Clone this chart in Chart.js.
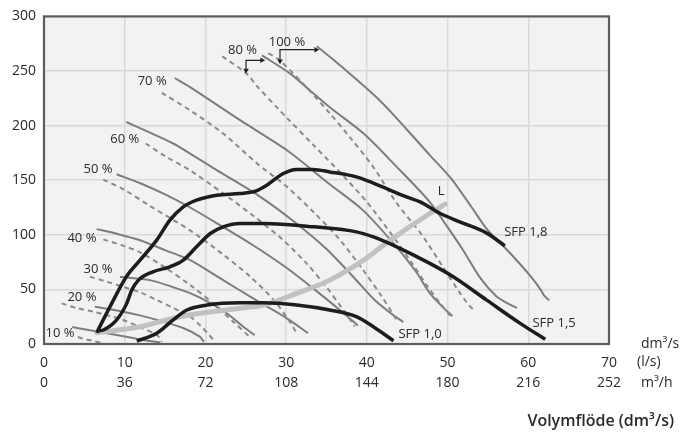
<!DOCTYPE html>
<html><head><meta charset="utf-8">
<script src="https://cdn.jsdelivr.net/npm/chart.js@4.4.1/dist/chart.umd.min.js"></script>
<style>html,body{margin:0;padding:0;background:#fff}#wrap{width:680px;height:432px;position:relative}</style>
</head><body><div id="wrap"><canvas id="c"></canvas></div>
<script>
// Axis ticks
const xTicksDm3s = [0,10,20,30,40,50,60,70];
const xTicksM3h  = [0,36,72,108,144,180,216,252];
const yTicks     = [0,50,100,150,200,250,300];

// Fan curves [flow dm3/s, pressure Pa]  (S = solid, D = dashed)
const fan100S = [[33.8,272.6],[36.7,255],[41.6,223],[45,196],[47.8,173],[50.5,151],[53,125],[55,104],[57,89],[59,73],[60.5,60],[61.5,50],[62,44],[62.6,40]];
const fan100D = [[27.8,266.4],[29.2,259.8],[32.5,235.3],[35.4,211.3],[37.9,189.3],[40.8,162],[43.7,129],[46.8,100],[49.3,72],[51.5,47],[52.6,36],[53.4,30]];
const fan80S  = [[27,264.3],[30.5,247.6],[33.4,229.3],[35.4,216.8],[39.6,192.7],[43.7,162.2],[47.8,130],[50,107],[52,85],[54,61],[56,44],[57.5,37],[58.6,33]];
const fan80D  = [[22.1,263.4],[25.1,247.6],[26.4,236],[29.2,214],[30.1,207],[33.4,182],[36.7,157],[40,130],[43,101],[45.5,75],[47.5,53],[49,38],[50.3,26]];
const fan70S  = [[16.2,243.6],[18.1,235.3],[24.3,205],[30.1,177.4],[35.4,146.3],[39.5,122.6],[43.7,88.7],[46.2,65],[47.8,46.6],[49.4,33.8],[50.6,25.6]];
const fan70D  = [[14.6,229.9],[18.1,214],[22.2,192.7],[26.4,165.3],[30.1,143.9],[33.5,120],[36.7,95],[39.5,68],[41.8,44],[43.7,22]];
const fan60S  = [[10.2,203.3],[13,194],[16,183.6],[18.1,174.4],[21.4,159.2],[26.8,134.8],[31,112],[35,87],[38.5,60],[41,40],[43,28],[44.5,20]];
const fan60D  = [[12.6,183.6],[15,172],[18.1,159],[22,139],[26,117],[29.5,96],[32.5,74],[35,52],[37,32],[38.5,16]];
const fan50S  = [[9,155.5],[12,147],[15,137],[18.1,125],[22,108],[26,90],[30,70],[33.5,50],[36.5,32],[38.9,17]];
const fan50D  = [[7.35,150.6],[10,141],[13,127],[18.1,104],[22,83],[25.5,62],[28.5,40],[30.3,22],[31.3,10]];
const fan40S  = [[6.53,105.2],[9,101],[11.9,95],[15,86],[18.1,76.8],[21,64],[24.3,49],[27,37],[30,24],[32.7,10]];
const fan40D  = [[7.35,95.8],[9.8,90],[11.9,84],[15,70],[18.1,54],[21,37],[23.5,20],[25.5,6.4]];
const fan30S  = [[9.4,61.6],[13.1,58.5],[16,52],[18.1,46.6],[20.5,38],[22.6,28.4],[24.5,17],[26.1,8]];
const fan30D  = [[5.7,61.6],[7.8,57],[9.8,52.4],[12,47],[14,40.2],[16,33],[18.1,25],[19.5,16],[20.5,8],[21,3.7]];
const fan20S  = [[6.3,34.1],[9.8,29.6],[12,26],[14,22],[17.3,14.4],[19.3,6.7],[19.8,2]];
const fan20D  = [[2.2,37.2],[4,33],[6.1,29.6],[8,26],[9.8,22],[12,15],[14,8.2],[14.6,2]];
const fan10S  = [[3.5,15.5],[5,13.5],[6.7,11.3],[8.5,9],[10.2,6.7],[12.5,3.5],[14.4,1.5]];
const fan10D  = [[4.2,6.4],[5,4.5],[6,3],[7.35,0.5]];

// SFP curves and system line L
const sfp18 = [[6.53,10.3],[8.39,37.2],[10.2,61.6],[11.9,76.8],[13.96,95.1],[15.6,113.4],[17.26,125.6],[18.9,131.7],[21.4,136.3],[24.3,137.8],[26.2,140],[27.6,145.4],[29.65,156.1],[31.3,159.8],[33.3,159.8],[35.4,157.6],[38.7,153],[40.8,147.3],[44.9,134.7],[46.6,130.2],[49.1,119.5],[51.5,111.9],[54.9,101.3],[57.1,89.9]];
const sfp15 = [[6.57,11.9],[7.35,12.8],[9.0,22],[10.25,37.2],[10.87,49.4],[11.7,58.5],[13.5,66.1],[15.6,70.7],[17.26,76.8],[18.9,89],[20.6,101.2],[22.2,107.3],[24.3,110.4],[27.2,110.4],[33.4,107.3],[38.7,102.7],[40.8,98.1],[43.7,89],[47.8,73.8],[50.7,61.6],[54.85,40.2],[59,18.9],[62.1,4.3]];
const sfp10 = [[11.5,2.7],[13.96,9.8],[16.0,22],[17.7,31.1],[20.2,35.7],[24.3,37.8],[27.2,37.8],[31.3,35.7],[35.4,31.1],[38.7,25],[40.8,15.8],[43.3,3]];
const lineL = [[6.53,10.3],[11.9,15.8],[16.85,25],[24.3,32.7],[27.2,35.7],[31.3,46.3],[35.4,58.5],[39.6,76.8],[42.9,95.1],[47.8,119.5],[49.7,128]];

// Arrow markers (80 % and 100 %)
const arrow80  = [[25.03,250.6],[25.03,259.8],[27.0,259.8]];
const arrow100 = [[29.24,259.1],[29.24,269.5],[33.7,269.5]];

// In-plot labels
const plotLabels = [
  ['10 %',1.98,10.1],['20 %',4.7,43],['30 %',6.7,68.6],['40 %',4.7,97],['50 %',6.7,160],
  ['60 %',10.0,187.5],['70 %',13.4,240.6],['80 %',24.6,269],['100 %',30.1,276.2],
  ['SFP 1,0',46.6,9.1],['SFP 1,5',63.2,19.2],['SFP 1,8',59.7,102.4],['L',49.2,139.5]
];

const pts = a => a.map(p => ({x:p[0], y:p[1]}));
const FONT = "'Open Sans', 'DejaVu Sans', sans-serif";

function gray(d, dashed){
  return {data: pts(d), borderColor: dashed ? '#888a8c' : '#7c7d7f', borderWidth: 2,
    borderDash: dashed ? [5,4] : [], pointRadius: 0, tension: 0.3, fill: false, order: 3};
}
function black(d){
  return {data: pts(d), borderColor: '#1d1d1d', borderWidth: 3.5, pointRadius: 0,
    cubicInterpolationMode: 'monotone', fill: false, order: 1, borderCapStyle: 'butt'};
}
function arrow(d){
  return {data: pts(d), borderColor: '#222', borderWidth: 1.2, tension: 0,
    pointStyle: 'triangle', pointRadius: [3.2,0,3.2], rotation: [180,0,90],
    pointBackgroundColor: '#222', pointBorderColor: '#222', pointBorderWidth: 0, order: 0};
}

const datasets = [
  gray(fan100S,false), gray(fan100D,true), gray(fan80S,false), gray(fan80D,true),
  gray(fan70S,false), gray(fan70D,true), gray(fan60S,false), gray(fan60D,true),
  gray(fan50S,false), gray(fan50D,true), gray(fan40S,false), gray(fan40D,true),
  gray(fan30S,false), gray(fan30D,true), gray(fan20S,false), gray(fan20D,true),
  gray(fan10S,false), gray(fan10D,true),
  {data: pts(lineL), borderColor: '#c0c1c3', borderWidth: 5, pointRadius: 0,
   cubicInterpolationMode: 'monotone', fill: false, order: 2, borderCapStyle: 'round'},
  black(sfp18), black(sfp15), black(sfp10),
  arrow(arrow80), arrow(arrow100)
];

const framePlugin = {
  id: 'framePlugin',
  beforeDraw(chart){
    const {ctx, chartArea: a} = chart;
    ctx.save();
    ctx.fillStyle = '#f1f2f4';
    ctx.fillRect(a.left, a.top, a.right - a.left, a.bottom - a.top);
    ctx.restore();
  },
  afterDatasetsDraw(chart){
    const {ctx, chartArea: a, scales} = chart;
    ctx.save();
    ctx.fillStyle = '#2a2a2a';
    ctx.font = "13px " + FONT;
    ctx.textAlign = 'center';
    ctx.textBaseline = 'middle';
    plotLabels.forEach(([t,x,y]) => {
      ctx.fillText(t, scales.x.getPixelForValue(x), scales.y.getPixelForValue(y));
    });
    ctx.strokeStyle = '#5c5c5c';
    ctx.lineWidth = 2.2;
    ctx.strokeRect(a.left, a.top, a.right - a.left, a.bottom - a.top);
    ctx.restore();
  },
  afterDraw(chart){
    const {ctx, chartArea: a, width, height} = chart;
    ctx.save();
    ctx.fillStyle = '#2a2a2a';
    ctx.font = "14px " + FONT;
    ctx.textAlign = 'left';
    ctx.textBaseline = 'alphabetic';
    ctx.fillText('dm³/s', a.right + 32, a.bottom + 4);
    ctx.fillText('(l/s)', a.right + 28, a.bottom + 22);
    ctx.fillText('m³/h', a.right + 32, a.bottom + 43);
    ctx.font = "600 16px " + FONT;
    ctx.textAlign = 'right';
    ctx.fillText('Volymflöde (dm³/s)', width - 6, height - 6);
    ctx.restore();
  }
};

new Chart(document.getElementById('c'), {
  type: 'line',
  data: {datasets},
  options: {
    responsive: true, maintainAspectRatio: false, animation: false, events: [],
    layout: {padding: {top: 16, right: 71, left: 0, bottom: 0}},
    plugins: {legend: {display: false}, tooltip: {enabled: false}},
    scales: {
      x: {type: 'linear', min: 0, max: 70,
        afterFit(s){ s.height = 88; },
        border: {display: false},
        grid: {color: '#d8d9db', lineWidth: 1.5, drawTicks: false},
        ticks: {stepSize: 10, padding: 9, color: '#2a2a2a', autoSkip: false, maxRotation: 0,
          font: {family: FONT, size: 14, lineHeight: 1.43},
          callback: v => { const i = xTicksDm3s.indexOf(v); return i < 0 ? '' : [String(xTicksDm3s[i]), String(xTicksM3h[i])]; }}
      },
      y: {type: 'linear', min: 0, max: 300,
        afterFit(s){ s.width = 44; },
        border: {display: false},
        grid: {color: '#d8d9db', lineWidth: 1.5, drawTicks: false},
        ticks: {stepSize: 50, padding: 8, color: '#2a2a2a',
          font: {family: FONT, size: 14},
          callback: v => yTicks.includes(v) ? String(v) : ''}
      }
    }
  },
  plugins: [framePlugin]
});
</script>
</body></html>
